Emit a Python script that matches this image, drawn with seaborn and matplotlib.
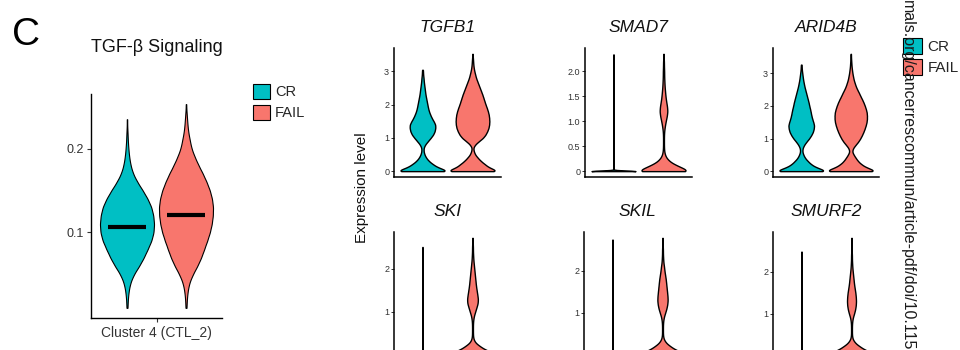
import numpy as np
import pandas as pd
import seaborn as sns
import matplotlib
matplotlib.use("Agg")
import matplotlib.pyplot as plt
from matplotlib.patches import Patch

# ---------------- data ----------------
groups = ["CR", "FAIL"]
cluster_label = "Cluster 4 (CTL_2)"

# TGF-beta signalling score: histogram bins and counts per group
score_bins = [0.01, 0.02, 0.03, 0.04, 0.05, 0.06, 0.07, 0.08, 0.09, 0.10,
              0.11, 0.12, 0.13, 0.14, 0.15, 0.16, 0.17, 0.18, 0.19, 0.20,
              0.21, 0.22, 0.23, 0.24, 0.25]
score_cr = [2, 3, 6, 12, 25, 45, 62, 76, 90, 98, 100, 97, 90, 76, 58, 38, 22,
            13, 8, 5, 3, 2]
score_fail = [2, 3, 6, 12, 25, 42, 56, 67, 78, 88, 95, 99, 100, 96, 88, 76, 62,
              46, 32, 20, 14, 8, 5, 3]
score_max = [0.235, 0.253]
score_median = [0.107, 0.121]

# gene expression: histogram bins and counts per group
expr_bins = [0.0, 0.1, 0.2, 0.3, 0.4, 0.5, 0.6, 0.7, 0.8, 0.9, 1.0, 1.1, 1.2,
             1.3, 1.4, 1.5, 1.6, 1.7, 1.8, 1.9, 2.0, 2.1, 2.2, 2.3, 2.4, 2.5,
             2.6, 2.7, 2.8, 2.9, 3.0, 3.1, 3.2, 3.3, 3.4, 3.5]
genes = ["TGFB1", "SMAD7", "ARID4B", "SKI", "SKIL", "SMURF2"]

tgfb1_cr = [130, 75, 50, 30, 17, 9, 5, 5, 12, 25, 38, 50, 57, 60, 60, 52, 43,
            36, 30, 26, 23, 20, 17, 14, 12, 10, 8, 6, 5, 3, 2]
tgfb1_fail = [130, 80, 60, 40, 25, 12, 6, 3, 12, 30, 50, 62, 70, 76, 79, 80,
              79, 77, 73, 68, 62, 57, 52, 47, 41, 35, 29, 23, 17, 13, 9, 6, 4,
              3, 2]
smad7_cr = [300]
smad7_fail = [130, 65, 25, 8, 3, 2, 2, 2, 3, 6, 10, 15, 18, 16, 12, 9, 7, 5, 4,
              3, 3, 2, 2]
arid4b_cr = [130, 75, 48, 32, 18, 10, 5, 6, 13, 24, 37, 47, 55, 59, 61, 57, 52,
             48, 45, 42, 38, 35, 31, 27, 23, 19, 15, 12, 9, 7, 5, 3, 2]
arid4b_fail = [130, 78, 52, 35, 24, 14, 6, 10, 22, 35, 45, 53, 60, 66, 71, 75,
               77, 77, 76, 72, 67, 61, 54, 46, 39, 31, 24, 19, 14, 11, 8, 6, 4,
               3, 2, 1]
ski_cr = [300]
ski_fail = [130, 68, 35, 10, 3, 2, 2, 2, 3, 6, 12, 18, 24, 25, 22, 19, 16, 14,
            12, 10, 8, 6, 4, 3, 2, 2, 1]
skil_cr = [300]
skil_fail = [130, 70, 38, 14, 4, 2, 2, 2, 3, 6, 12, 18, 22, 24, 23, 21, 19, 17,
             15, 12, 9, 7, 4, 3, 2, 2, 1]
smurf2_cr = [300]
smurf2_fail = [130, 72, 40, 15, 4, 2, 2, 2, 3, 6, 12, 17, 20, 21, 20, 18, 15,
               12, 10, 8, 6, 4, 3, 2, 2, 1, 1]

gene_counts = {
    "TGFB1": (tgfb1_cr, tgfb1_fail),
    "SMAD7": (smad7_cr, smad7_fail),
    "ARID4B": (arid4b_cr, arid4b_fail),
    "SKI": (ski_cr, ski_fail),
    "SKIL": (skil_cr, skil_fail),
    "SMURF2": (smurf2_cr, smurf2_fail),
}
gene_max_cr = [3.05, 2.34, 3.27, 2.50, 2.74, 2.49]
gene_max_fail = [3.53, 2.35, 3.60, 2.71, 2.78, 2.82]

# tick labels (the 0 of the lower row lies below the visible area)
gene_ticks = {
    "TGFB1": ([0, 1, 2, 3], ["0", "1", "2", "3"]),
    "SMAD7": ([0, 0.5, 1.0, 1.5, 2.0], ["0", "0.5", "1.0", "1.5", "2.0"]),
    "ARID4B": ([0, 1, 2, 3], ["0", "1", "2", "3"]),
    "SKI": ([1, 2], ["1", "2"]),
    "SKIL": ([1, 2], ["1", "2"]),
    "SMURF2": ([1, 2], ["1", "2"]),
}

# ---------------- style ----------------
sns.set_theme(style="ticks")
plt.rcParams["font.family"] = ["Liberation Sans", "DejaVu Sans"]
palette = {"CR": "#00BFC4", "FAIL": "#F8766D"}
TXT = "#333333"


def observations(bins, counts, vmax):
    vals = np.repeat(np.asarray(bins[:len(counts)], dtype=float), counts)
    return np.append(vals, vmax)


def fixed_bw(h):
    def factor(kde):
        sd = float(np.sqrt(np.cov(kde.dataset, aweights=kde.weights)))
        return h / sd
    return factor


def draw_violins(ax, frame, xcol, ycol, bws, gap, lw):
    for grp, h in zip(groups, bws):
        sub = frame[frame["group"] == grp]
        sns.violinplot(data=sub, x=xcol, y=ycol, hue="group", hue_order=groups,
                       palette=palette, dodge=True, width=0.8, gap=gap,
                       inner=None, cut=0, density_norm="width",
                       bw_method=fixed_bw(h), saturation=1, linecolor="black",
                       linewidth=lw, legend=False, gridsize=300, ax=ax)


def style_axes(ax, lw=1.0):
    for s in ["top", "right"]:
        ax.spines[s].set_visible(False)
    for s in ["left", "bottom"]:
        ax.spines[s].set_color("black")
        ax.spines[s].set_linewidth(lw)
    ax.set_xlabel("")
    ax.set_ylabel("")


W, H = 960, 350
fig = plt.figure(figsize=(9.6, 3.5), dpi=100)


def px_axes(x0, y_top, w, h):
    return fig.add_axes([x0 / W, 1 - (y_top + h) / H, w / W, h / H])


# ---------------- panel: TGF-beta signalling score ----------------
axA = px_axes(91, 94, 131, 224)
score_df = pd.concat([
    pd.DataFrame({"cluster": cluster_label, "group": g,
                  "score": observations(score_bins, c, m)})
    for g, c, m in zip(groups, [score_cr, score_fail], score_max)
], ignore_index=True)
draw_violins(axA, score_df, "cluster", "score", [0.006, 0.006], 0.085, 0.8)
med_df = pd.DataFrame({"cluster": cluster_label, "group": groups,
                       "median": score_median})
sns.pointplot(data=med_df, x="cluster", y="median", hue="group",
              hue_order=groups, palette={"CR": "black", "FAIL": "black"},
              dodge=0.4, markers="_", errorbar=None, markersize=27,
              markeredgewidth=3, legend=False, ax=axA)
lo, hi = score_df["score"].min(), score_df["score"].max()
axA.set_ylim(lo - 0.05 * (hi - lo), hi + 0.05 * (hi - lo))
axA.set_xlim(-0.444, 0.444)
axA.set_yticks([0.1, 0.2])
axA.set_yticklabels(["0.1", "0.2"])
axA.set_xticks([0])
axA.set_xticklabels([cluster_label])
style_axes(axA)
axA.tick_params(axis="y", length=3, width=0.8, pad=2, labelsize=9,
                labelcolor=TXT, color="#333333")
axA.tick_params(axis="x", length=3, width=0.8, pad=3, labelsize=10,
                labelcolor=TXT, color="#333333")
axA.set_title("TGF-\u03b2 Signaling", fontsize=13, pad=30, color="#111111")

fig.text(12 / W, 1 - 45 / H, "C", fontsize=28, ha="left", va="baseline",
         color="black")

# ---------------- gene panels ----------------
gene_boxes = [(394, 48, 107), (585, 48, 107), (773, 48, 106),
              (394, 232, 107), (584, 232, 107), (773, 232, 107)]
for gene, (x0, yt, w), mcr, mfail in zip(genes, gene_boxes, gene_max_cr,
                                          gene_max_fail):
    ax = px_axes(x0, yt, w, 129)
    cr_c, fail_c = gene_counts[gene]
    df = pd.concat([
        pd.DataFrame({"gene": gene, "group": "CR",
                      "expr": observations(expr_bins, cr_c, mcr)}),
        pd.DataFrame({"gene": gene, "group": "FAIL",
                      "expr": observations(expr_bins, fail_c, mfail)}),
    ], ignore_index=True)
    bws = [0.06 if len(cr_c) > 1 else 0.012,
           0.06 if len(fail_c) > 1 else 0.012]
    draw_violins(ax, df, "gene", "expr", bws, 0.12, 1.0)
    lo, hi = df["expr"].min(), df["expr"].max()
    ax.set_ylim(lo - 0.05 * (hi - lo), hi + 0.05 * (hi - lo))
    ax.set_xlim(-0.428, 0.428)
    ticks, labels = gene_ticks[gene]
    ax.set_yticks(ticks)
    ax.set_yticklabels(labels)
    ax.set_xticks([])
    style_axes(ax, 1.1)
    ax.tick_params(axis="y", length=2.5, width=0.7, pad=1, labelsize=6.5,
                   labelcolor=TXT, color="#333333")
    ax.set_title(gene, fontsize=12.5, style="italic", pad=11.5,
                 color="#111111")

fig.text(362 / W, 1 - 188 / H, "Expression level", rotation=90,
         ha="center", va="center", fontsize=11, color="#111111")

# ---------------- legends ----------------
handles = [Patch(facecolor=palette[g], edgecolor="black", linewidth=0.8,
                 label=g) for g in groups]
fig.legend(handles=handles, loc="upper left",
           bbox_to_anchor=(253 / W, 1 - 84 / H), frameon=False,
           fontsize=10.5, handlelength=1.16, handleheight=1.16,
           handletextpad=0.35, labelspacing=0.4, borderpad=0,
           borderaxespad=0)
fig.legend(handles=handles, loc="upper left",
           bbox_to_anchor=(903 / W, 1 - 38 / H), frameon=False,
           fontsize=11, handlelength=1.24, handleheight=1.24,
           handletextpad=0.38, labelspacing=0.33, borderpad=0,
           borderaxespad=0)

# download watermark running down the right edge
fig.text(907 / W, 1.0, "mals.org/cancerrescommun/article-pdf/doi/10.115",
         rotation=270, ha="center", va="top", fontsize=11.5,
         color="#1a1a1a", zorder=10)

fig.savefig("out.png", dpi=100)
